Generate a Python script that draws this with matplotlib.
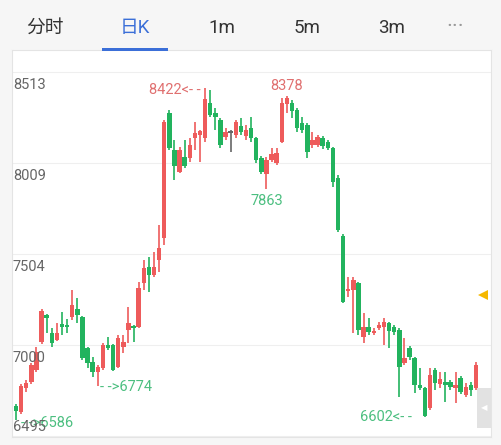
import matplotlib
matplotlib.use("Agg")
import matplotlib.pyplot as plt
from matplotlib.patches import Rectangle
import numpy as np

plt.rcParams['font.family'] = ['Roboto', 'Noto Sans CJK SC', 'DejaVu Sans']

# ---------------- data (daily K, price) ----------------
opens = [6661, 6628, 6761, 6794, 6861, 7016, 7166, 7066, 7027, 7116,
         7110, 7155, 7199, 7155, 6983, 6905, 6850, 6872, 7000, 7000,
         6877, 6988, 7083, 7105, 7099, 7343, 7432, 7388, 7471, 7593,
         8286, 8081, 7959, 8042, 8036, 8147, 8164, 8147, 8341, 8286,
         8247, 8153, 8175, 8164, 8214, 8158, 8203, 8147, 8036, 7947,
         8025, 8009, 8125, 8336, 8341, 8302, 8230, 8219, 8108, 8108,
         8147, 8125, 8092, 7925, 7604, 7299, 7304, 7343, 7044, 7099,
         7066, 7094, 7099, 7122, 7099, 7083, 6900, 6983, 6927, 6778,
         6761, 6650, 6861, 6783, 6794, 6794, 6761, 6817, 6722, 6778,
         6761]
closes = [6634, 6772, 6789, 6889, 6961, 7188, 7149, 7011, 7066, 7099,
          7099, 7221, 7166, 6927, 6900, 6850, 6877, 7000, 6983, 6861,
          7038, 7016, 7122, 7094, 7316, 7426, 7388, 7432, 7537, 8236,
          8092, 7992, 8081, 7992, 8108, 8175, 8186, 8363, 8275, 8264,
          8108, 8180, 8175, 8236, 8180, 8191, 8147, 8025, 7959, 8025,
          8058, 8064, 8341, 8369, 8297, 8203, 8191, 8070, 8136, 8153,
          8103, 8092, 7903, 7637, 7238, 7310, 7360, 7083, 7099, 7072,
          7077, 7110, 7127, 7077, 7072, 6877, 6927, 6933, 6778, 6761,
          6608, 6833, 6789, 6811, 6778, 6767, 6778, 6739, 6767, 6750,
          6889]
highs = [6672, 6783, 6806, 6900, 6988, 7199, 7171, 7094, 7122, 7183,
         7144, 7304, 7260, 7160, 6986, 6933, 6889, 7011, 7044, 7005,
         7055, 7055, 7210, 7108, 7349, 7471, 7487, 7515, 7665, 8247,
         8302, 8136, 8097, 8136, 8147, 8236, 8191, 8422, 8414, 8313,
         8258, 8203, 8191, 8247, 8258, 8219, 8264, 8150, 8047, 8042,
         8092, 8092, 8369, 8378, 8358, 8313, 8264, 8230, 8180, 8164,
         8158, 8136, 8097, 7942, 7615, 7376, 7376, 7349, 7177, 7149,
         7094, 7127, 7149, 7127, 7110, 7094, 7038, 6994, 6933, 6872,
         6767, 6872, 6872, 6850, 6850, 6806, 6850, 6828, 6789, 6794,
         6905]
lows = [6586, 6617, 6739, 6783, 6850, 7005, 7066, 6988, 7022, 7055,
        7066, 7138, 7122, 6916, 6872, 6822, 6774, 6861, 6972, 6855,
        6872, 6955, 7011, 7016, 7094, 7304, 7293, 7376, 7404, 7554,
        8081, 7914, 7953, 7981, 8014, 8081, 8014, 8125, 8264, 8191,
        8092, 8136, 8070, 8147, 8164, 8136, 8125, 8009, 7947, 7863,
        8014, 7997, 8119, 8286, 8258, 8180, 8175, 8036, 8092, 8097,
        8086, 8081, 7875, 7626, 7232, 7266, 7066, 7055, 7011, 7055,
        7055, 7083, 7000, 6983, 7055, 6711, 6889, 6916, 6733, 6750,
        6602, 6639, 6750, 6761, 6684, 6750, 6678, 6728, 6711, 6717,
        6750]

price_ticks = [8513, 8009, 7504, 7000, 6495]
tabs = ["分时", "日K", "1m", "5m", "3m", "···"]
marker_price = 7277

# ---------------- layout ----------------
W, H = 502, 445
fig = plt.figure(figsize=(W / 100, H / 100), dpi=100, facecolor='#f6f6f6')

px_left, px_right, px_top, px_bottom = 12, 491, 50, 437
grid_top_px, grid_bot_px = 72, 436
ax = fig.add_axes([px_left / W, (H - px_bottom) / H,
                   (px_right - px_left) / W, (px_bottom - px_top) / H])
ax.set_facecolor('white')

ppp = (price_ticks[0] - price_ticks[-1]) / (grid_bot_px - grid_top_px)
ax.set_ylim(price_ticks[-1] - (px_bottom - grid_bot_px) * ppp,
            price_ticks[0] + (grid_top_px - px_top) * ppp)

n = len(opens)
first_px, last_px = 16, 476
step = (last_px - first_px) / (n - 1)
ax.set_xlim(-(first_px - px_left) / step, (n - 1) + (px_right - last_px) / step)

RED = '#ee5b5b'
GREEN = '#22b35e'
GRAY = '#666666'

o = np.array(opens, float)
c = np.array(closes, float)
h = np.array(highs, float)
l = np.array(lows, float)
x = np.arange(n)
cols = [RED if cc > oo else (GREEN if cc < oo else GRAY) for oo, cc in zip(o, c)]

ax.vlines(x, l, h, colors=cols, linewidth=1.2, zorder=3)
body_bottom = np.minimum(o, c)
body_h = np.maximum(np.abs(c - o), ppp * 1.5)
ax.bar(x, body_h, bottom=body_bottom, width=0.86, color=cols, linewidth=0, zorder=4)

# grid
for p in price_ticks:
    ax.axhline(p, color='#efefef', linewidth=0.8, zorder=1)

# y labels
for i, p in enumerate(price_ticks):
    if i == len(price_ticks) - 1:
        ax.annotate(str(p), xy=(0, p), xycoords=('axes fraction', 'data'),
                    xytext=(1, 2), textcoords='offset pixels',
                    ha='left', va='bottom', fontsize=10.5, color='#666666', zorder=6)
    else:
        ax.annotate(str(p), xy=(0, p), xycoords=('axes fraction', 'data'),
                    xytext=(1, -6), textcoords='offset pixels',
                    ha='left', va='top', fontsize=10.5, color='#666666', zorder=6)

# extreme labels
LRED = '#e07070'
LGREEN = '#4cbf80'
FS = 10.5
i_hi1 = int(np.argmax(h[:50]))
ax.annotate(f"{int(h[i_hi1])}<- -", xy=(i_hi1, h[i_hi1]), xytext=(-4, -2),
            textcoords='offset pixels', ha='right', va='center', fontsize=FS, color=LRED)
i_hi2 = 50 + int(np.argmax(h[50:]))
ax.annotate(f"{int(h[i_hi2])}", xy=(i_hi2, h[i_hi2]), xytext=(0, 3),
            textcoords='offset pixels', ha='center', va='bottom', fontsize=FS, color=LRED)
i_lo_mid = 40 + int(np.argmin(l[40:60]))
ax.annotate(f"{int(l[i_lo_mid])}", xy=(i_lo_mid, l[i_lo_mid]), xytext=(0, -5),
            textcoords='offset pixels', ha='center', va='top', fontsize=FS, color=LGREEN)
i_lo1 = int(np.argmin(l[:5]))
ax.annotate(f"- ->{int(l[i_lo1])}", xy=(i_lo1, l[i_lo1]), xytext=(5, -3),
            textcoords='offset pixels', ha='left', va='center', fontsize=FS, color=LGREEN)
i_lo2 = 10 + int(np.argmin(l[10:25]))
ax.annotate(f"- ->{int(l[i_lo2])}", xy=(i_lo2, l[i_lo2]), xytext=(2, -1),
            textcoords='offset pixels', ha='left', va='center', fontsize=FS, color=LGREEN)
i_lo3 = 70 + int(np.argmin(l[70:]))
ax.annotate(f"{int(l[i_lo3])}<- -", xy=(i_lo3, l[i_lo3]), xytext=(-13, 0),
            textcoords='offset pixels', ha='right', va='center', fontsize=FS, color=LGREEN)

# right side marker
ax.plot([n - 1 + (483 - last_px) / step], [marker_price], marker='<', markersize=7,
        color='#f5b800', clip_on=False, zorder=7, markeredgewidth=0)

ax.set_xticks([])
ax.set_yticks([])
for s in ax.spines.values():
    s.set_color('#e4e4e4')
    s.set_linewidth(0.8)

# scroll box bottom right
fig.patches.append(Rectangle((477 / W, (H - 428) / H), 14 / W, 40 / H,
                             transform=fig.transFigure, facecolor='#e2e2e2',
                             edgecolor='none', zorder=10))
fig.text(484 / W, 1 - 408 / H, '◀', ha='center', va='center', fontsize=6,
         color='white', family=['DejaVu Sans'], zorder=11)

# tab bar
tab_x = [45, 135, 222, 307, 392, 455]
for t, tx in zip(tabs, tab_x):
    col = '#3b6fd8' if t == "日K" else ('#999999' if t == "···" else '#333333')
    fs = 16 if t == "···" else 13.5
    fig.text(tx / W, 1 - 28 / H, t, ha='center', va='center', fontsize=fs,
             color=col, family=['Roboto', 'Noto Sans CJK SC', 'DejaVu Sans'])
fig.patches.append(Rectangle((102 / W, 1 - 51 / H), 66 / W, 3.5 / H,
                             transform=fig.transFigure, facecolor='#3b6fd8',
                             edgecolor='none'))

fig.savefig('out.png', dpi=100, facecolor=fig.get_facecolor())
